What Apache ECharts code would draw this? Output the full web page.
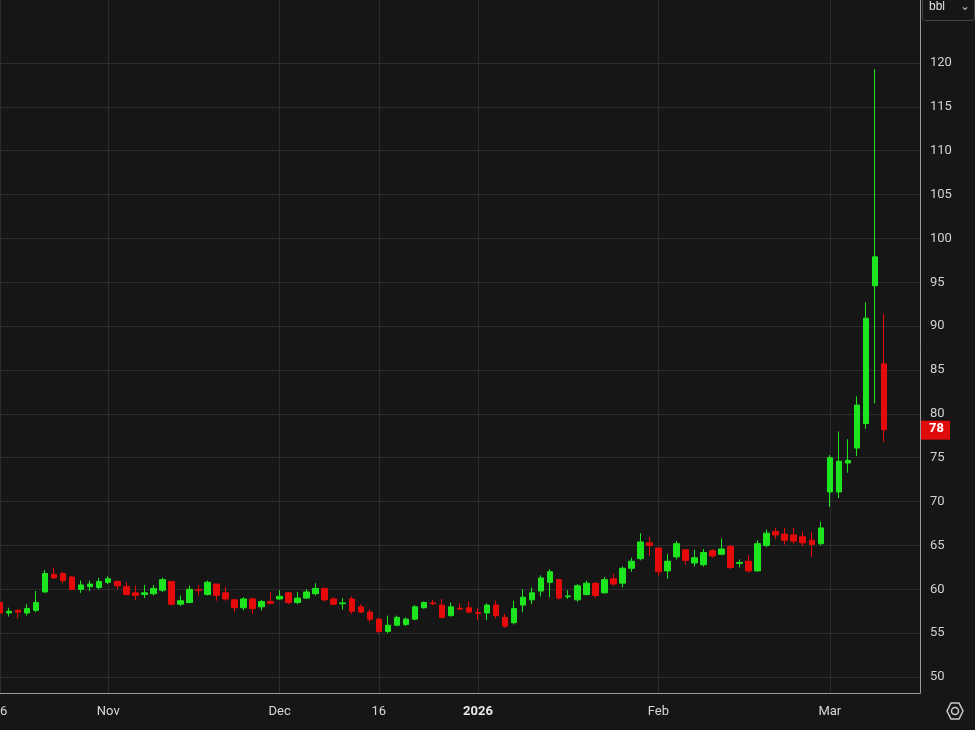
<!DOCTYPE html>
<html>
<head>
<meta charset="utf-8">
<script src="https://cdn.jsdelivr.net/npm/echarts@6/dist/echarts.min.js"></script>
<style>
  html, body { margin: 0; padding: 0; background: #161616; }
  #chart { width: 975px; height: 730px; }
</style>
</head>
<body>
<div id="chart"></div>
<script>
// Daily OHLC, Oct 16 2025 .. Mar 10 2026 (price per bbl)
var opens = [58.5,57.3,57.6,57.3,57.6,59.7,61.7,61.8,61.4,60.0,60.3,60.2,60.8,60.9,60.3,59.6,59.4,59.5,59.9,60.9,58.3,58.5,59.95,59.4,60.6,59.6,58.8,
  57.9,58.9,58.0,58.6,58.9,59.6,58.5,59.0,59.5,60.1,58.9,58.35,58.9,58.0,57.4,56.6,55.2,55.9,56.0,56.6,57.9,58.45,58.2,57.0,57.85,57.9,
  57.35,57.3,58.2,56.8,56.2,58.2,58.8,59.8,60.8,61.1,59.15,58.8,59.4,60.7,59.6,61.2,60.7,62.4,63.5,65.3,64.7,62.1,63.7,64.5,63.0,
  62.8,64.4,64.0,64.9,62.95,63.2,62.1,65.0,66.6,66.3,66.2,66.0,65.6,65.2,71.1,71.1,74.4,76.1,78.9,94.6,85.7];
var closes = [57.3,57.5,57.4,57.8,58.5,61.8,61.3,61.0,60.0,60.5,60.6,60.9,61.2,60.4,59.4,59.3,59.6,60.1,61.1,58.3,58.7,60.0,59.85,60.8,59.3,58.9,57.9,
  58.9,57.8,58.6,58.4,59.2,58.5,59.0,59.7,60.1,58.8,58.3,58.45,57.5,57.4,56.6,55.2,55.9,56.8,56.6,58.0,58.5,58.35,56.8,58.0,57.75,57.4,
  57.25,58.2,57.0,55.8,57.8,59.1,59.6,61.3,62.0,59.0,59.25,60.4,60.7,59.3,61.1,60.6,62.4,63.2,65.4,65.0,62.0,63.2,65.2,63.3,63.6,
  64.2,63.8,64.6,62.5,63.05,62.1,65.2,66.4,66.2,65.6,65.5,65.3,65.1,67.0,75.0,74.6,74.7,81.0,90.9,97.9,78.2];
var lows = [57.0,56.9,56.7,57.0,57.4,59.6,61.2,60.7,59.9,59.6,59.8,60.0,60.6,60.0,59.3,58.8,59.0,59.3,59.7,58.2,58.1,58.4,59.3,59.3,58.7,58.7,57.4,
  57.6,57.2,57.6,58.3,58.8,58.3,58.3,58.9,59.3,58.6,58.2,57.7,57.2,57.3,56.3,55.0,55.0,55.8,55.8,56.5,57.8,58.2,56.7,56.9,57.6,57.3,
  56.5,56.5,56.7,55.6,56.0,57.4,58.3,59.2,59.1,58.8,58.9,58.6,59.3,59.0,59.5,60.4,60.2,62.0,63.3,63.8,61.5,61.2,63.4,62.8,62.6,
  62.6,63.6,63.9,62.3,62.5,61.9,62.0,64.8,65.7,65.1,65.2,64.9,63.7,65.0,69.4,70.4,73.3,75.2,78.3,81.2,76.8];
var highs = [58.6,57.9,57.7,58.3,59.8,62.2,62.5,62.0,61.5,61.0,61.0,61.3,61.5,61.0,60.8,60.4,60.5,60.5,61.3,60.9,59.3,60.4,60.5,61.0,60.6,60.3,58.9,
  59.1,59.0,58.8,59.7,59.9,59.7,59.7,60.0,60.7,60.2,59.1,59.0,59.2,58.3,57.7,56.7,57.0,57.0,56.8,58.2,58.6,58.8,58.9,58.5,58.4,58.6,
  57.9,58.4,58.7,57.2,58.7,60.0,60.2,61.6,62.3,61.2,59.9,60.6,61.0,60.8,61.4,61.8,62.6,63.6,66.4,66.0,64.8,64.0,65.5,64.6,64.5,
  64.6,64.6,65.8,65.0,63.4,63.9,65.6,66.8,67.0,67.0,67.0,66.6,66.5,67.7,75.3,78.0,77.1,82.0,92.7,119.3,91.4];
var lastPrice = 78;
var yTicks = [50,55,60,65,70,75,80,85,90,95,100,105,110,115,120];
var holidays = ["2025-11-27","2025-12-25","2026-01-01","2026-01-19","2026-02-16"];
var tickLabels = { "2025-10-16": "16", "2025-11-03": "Nov", "2025-12-01": "Dec", "2025-12-16": "16",
  "2026-01-02": "2026", "2026-02-02": "Feb", "2026-03-02": "Mar" };

// trading-day categories
var dates = [];
(function () {
  var d = new Date(Date.UTC(2025, 9, 16));
  while (dates.length < opens.length) {
    var s = d.toISOString().slice(0, 10), wd = d.getUTCDay();
    if (wd !== 0 && wd !== 6 && holidays.indexOf(s) < 0) dates.push(s);
    d.setUTCDate(d.getUTCDate() + 1);
  }
})();
var cats = dates.concat(["p1", "p2", "p3", "p4"]);
var ohlc = opens.map(function (o, i) { return [o, closes[i], lows[i], highs[i]]; });
function isTick(i) { return !!tickLabels[cats[i]]; }

var chart = echarts.init(document.getElementById("chart"));
chart.setOption({
  backgroundColor: "#161616",
  animation: false,
  grid: { left: 0, right: 55, top: 0, bottom: 37, outerBoundsMode: "none", containLabel: false },
  xAxis: {
    type: "category", data: cats, boundaryGap: false,
    axisLine: { lineStyle: { color: "#9a9a9a" } },
    axisTick: { show: false },
    axisLabel: {
      interval: function (i) { return isTick(i); },
      color: "#d8d8d8", fontFamily: "Roboto", fontSize: 13, margin: 12,
      formatter: function (v) { return tickLabels[v] === "2026" ? "{b|2026}" : (tickLabels[v] || ""); },
      rich: { b: { fontWeight: "bold", color: "#e8e8e8", fontFamily: "Roboto", fontSize: 13 } }
    },
    splitLine: { show: true, interval: function (i) { return isTick(i); }, lineStyle: { color: "#2c2c2c" } }
  },
  yAxis: {
    type: "value", position: "right", min: 48.18, max: 127.18, scale: true,
    axisLine: { show: true, lineStyle: { color: "#9a9a9a" } },
    axisTick: { show: false, customValues: yTicks },
    axisLabel: { customValues: yTicks, color: "#d0d0d0", fontFamily: "Roboto", fontSize: 13, margin: 10 },
    splitLine: { show: true, lineStyle: { color: "#2c2c2c" } }
  },
  series: [{
    type: "candlestick", data: ohlc, barWidth: 6,
    itemStyle: { color: "#1ee61e", color0: "#e60b0b", borderColor: "#1ee61e", borderColor0: "#e60b0b", borderWidth: 1 }
  }],
  graphic: [
    { type: "rect", left: 922, top: -4, shape: { width: 52, height: 24, r: 3 },
      style: { fill: "#161616", stroke: "#444", lineWidth: 1 } },
    { type: "text", left: 929, top: 1, style: { text: "bbl", fill: "#e0e0e0", font: "13px Roboto" } },
    { type: "text", left: 960, top: 1, style: { text: "⌄", fill: "#bbb", font: "12px 'DejaVu Sans'" } },
    { type: "circle", shape: { cx: 955, cy: 711, r: 3.5 }, style: { fill: "none", stroke: "#ccc", lineWidth: 1.5 } },
    { type: "polygon", shape: { points: [[951,703],[959,703],[963,711],[959,719],[951,719],[947,711]] },
      style: { fill: "none", stroke: "#ccc", lineWidth: 1.5 } }
  ]
});

// last price tag on the price axis
var py = chart.convertToPixel({ yAxisIndex: 0 }, closes[closes.length - 1]);
chart.setOption({ graphic: [
  {}, {}, {}, {}, {},
  { type: "rect", left: 921, top: py - 9, shape: { width: 29, height: 19 }, style: { fill: "#e00b0b" } },
  { type: "text", left: 929, top: py - 7, style: { text: String(lastPrice), fill: "#fff", font: "bold 13px Roboto" } }
] });
</script>
</body>
</html>
